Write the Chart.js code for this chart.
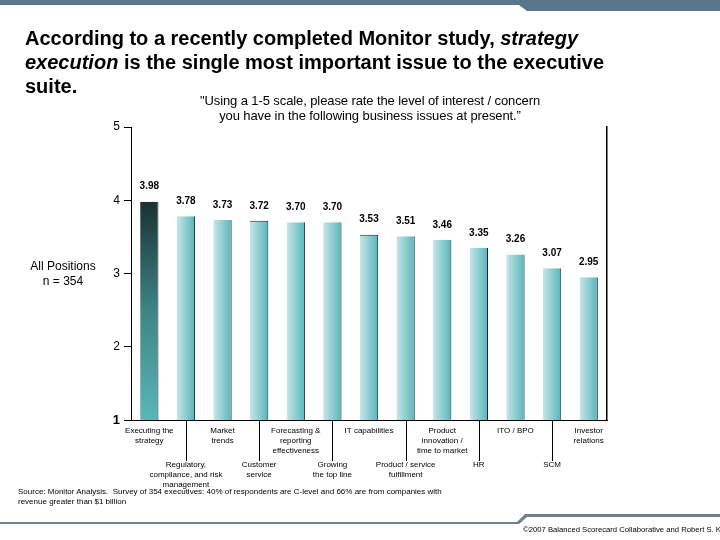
<!DOCTYPE html>
<html>
<head>
<meta charset="utf-8">
<script src="https://cdn.jsdelivr.net/npm/chart.js@4"></script>
<style>
  html, body { margin: 0; padding: 0; background: #fff; }
  #wrap { position: relative; width: 720px; height: 540px; overflow: hidden; font-family: "Liberation Sans", Arial, sans-serif; color: #000; }
  #c { position: absolute; left: 0; top: 0; }
  .t { position: absolute; white-space: nowrap; }
  #title { left: 25px; top: 26px; font-size: 20px; font-weight: bold; line-height: 24px; }
  #sub { left: 170px; width: 400px; top: 93px; font-size: 13px; line-height: 15px; text-align: center; letter-spacing: -0.1px; font-family: "Liberation Sans Narrow", "Arial Narrow", "Liberation Sans", sans-serif; }
  #pos { left: 23px; width: 80px; top: 259px; font-size: 12px; line-height: 15px; text-align: center; }
  #src { left: 18px; top: 487px; font-size: 8px; line-height: 10px; }
  #copy { left: 523px; top: 525px; font-size: 7.7px; }
</style>
</head>
<body>
<div id="wrap">
  <svg width="720" height="540" style="position:absolute;left:0;top:0">
    <polygon points="0,0 720,0 720,11 527,11 519,5 0,5" fill="#58778f"/>
    <polygon points="0,522 517,522 525,514 720,514 720,517 527,517 519,524 0,524" fill="#6f838f"/>
  </svg>
  <canvas id="c" width="720" height="540"></canvas>
  <div class="t" id="title">According to a recently completed Monitor study, <i>strategy</i><br><i>execution</i> is the single most important issue to the executive<br>suite.</div>
  <div class="t" id="sub">"Using a 1-5 scale, please rate the level of interest / concern<br>you have in the following business issues at present.”</div>
  <div class="t" id="pos">All Positions<br>n = 354</div>
  <div class="t" id="src">Source: Monitor Analysis. &nbsp;Survey of 354 executives: 40% of respondents are C-level and 66% are from companies with<br>revenue greater than $1 billion</div>
  <div class="t" id="copy">©2007 Balanced Scorecard Collaborative and Robert S. Kaplan</div>
</div>
<script>
const categories = [
  ["Executing the", "strategy"],
  ["Regulatory,", "compliance, and risk", "management"],
  ["Market", "trends"],
  ["Customer", "service"],
  ["Forecasting &", "reporting", "effectiveness"],
  ["Growing", "the top line"],
  ["IT capabilities"],
  ["Product / service", "fulfillment"],
  ["Product", "innovation /", "time to market"],
  ["HR"],
  ["ITO / BPO"],
  ["SCM"],
  ["Investor", "relations"]
];
const values = [3.98, 3.78, 3.73, 3.72, 3.70, 3.70, 3.53, 3.51, 3.46, 3.35, 3.26, 3.07, 2.95];
const yTicks = [1, 2, 3, 4, 5];
const valueLabels = ["3.98", "3.78", "3.73", "3.72", "3.70", "3.70", "3.53", "3.51", "3.46", "3.35", "3.26", "3.07", "2.95"];

const BAR_PCT = 0.5;

function barFill(ctx) {
  const chart = ctx.chart;
  const area = chart.chartArea;
  if (!area) return '#5bb8bc';
  const xs = chart.scales.x, ys = chart.scales.y;
  const i = ctx.dataIndex;
  const g = chart.ctx;
  if (i === 0) {
    const top = ys.getPixelForValue(values[i]);
    const bot = ys.getPixelForValue(yTicks[0]);
    const gr = g.createLinearGradient(0, top, 0, bot);
    gr.addColorStop(0, '#1b3132');
    gr.addColorStop(0.5, '#3f8485');
    gr.addColorStop(1, '#5ab6b8');
    return gr;
  }
  const cx = xs.getPixelForValue(i);
  const w = (area.right - area.left) / categories.length * BAR_PCT;
  const gr = g.createLinearGradient(cx - w / 2, 0, cx + w / 2, 0);
  gr.addColorStop(0, '#c6e6e8');
  gr.addColorStop(1, '#57b5b9');
  return gr;
}

const labelPlugin = {
  id: 'labels',
  afterDraw(chart) {
    const g = chart.ctx;
    const xs = chart.scales.x, ys = chart.scales.y;
    const bottom = chart.chartArea.bottom;
    g.save();
    g.fillStyle = '#000';
    g.textAlign = 'center';
    g.textBaseline = 'middle';
    g.font = 'bold 10px "Liberation Sans Narrow", "Arial Narrow", "Liberation Sans", sans-serif';
    values.forEach((v, i) => {
      g.fillText(valueLabels[i], xs.getPixelForValue(i), ys.getPixelForValue(v) - 15);
    });
    g.font = '8px "Liberation Sans", Arial, sans-serif';
    g.strokeStyle = '#000';
    g.lineWidth = 1;
    categories.forEach((lines, i) => {
      const x = xs.getPixelForValue(i);
      let y0;
      if (i % 2 === 0) {
        y0 = bottom + 11;
      } else {
        y0 = bottom + 45;
        const lx = Math.round(x) + 0.5;
        g.beginPath();
        g.moveTo(lx, bottom);
        g.lineTo(lx, bottom + 41);
        g.stroke();
      }
      lines.forEach((s, k) => g.fillText(s, x, y0 + k * 9.7));
    });
    g.restore();
  }
};

new Chart(document.getElementById('c'), {
  type: 'bar',
  data: {
    labels: categories,
    datasets: [{
      data: values,
      backgroundColor: barFill,
      borderColor: '#1a2a2a',
      borderWidth: (ctx) => (ctx.dataIndex === 3 || ctx.dataIndex === 6) ? {top: 1, right: 1, left: 0, bottom: 0} : {top: 0, right: 1, left: 0, bottom: 0},
      borderSkipped: false,
      barPercentage: BAR_PCT,
      categoryPercentage: 1.0
    }]
  },
  options: {
    responsive: false,
    devicePixelRatio: 1,
    animation: false,
    layout: { padding: { left: 100, right: 113, top: 127, bottom: 120 } },
    plugins: { legend: { display: false }, tooltip: { enabled: false } },
    scales: {
      x: {
        type: 'category',
        grid: { display: false },
        border: { display: true, color: '#000', width: 1 },
        ticks: { display: false },
        afterFit(s) { s.height = 0; }
      },
      y: {
        min: 1, max: 5,
        afterBuildTicks(s) { s.ticks = yTicks.map(v => ({ value: v })); },
        ticks: {
          color: '#000',
          padding: 4,
          font: (c) => (c.tick && c.tick.value === 1) ? { size: 13, weight: 'bold', family: '"Liberation Sans", Arial, sans-serif' } : { size: 12, family: '"Liberation Sans", Arial, sans-serif' }
        },
        grid: { drawOnChartArea: false, drawTicks: true, tickLength: 7, color: '#000' },
        border: { display: true, color: '#000', width: 1 },
        afterFit(s) { s.width = 31; }
      },
      y2: {
        position: 'right',
        min: 1, max: 5,
        ticks: { display: false },
        grid: { display: false },
        border: { display: true, color: '#000', width: 1.5 },
        afterFit(s) { s.width = 0; }
      }
    }
  },
  plugins: [labelPlugin]
});
</script>
</body>
</html>
